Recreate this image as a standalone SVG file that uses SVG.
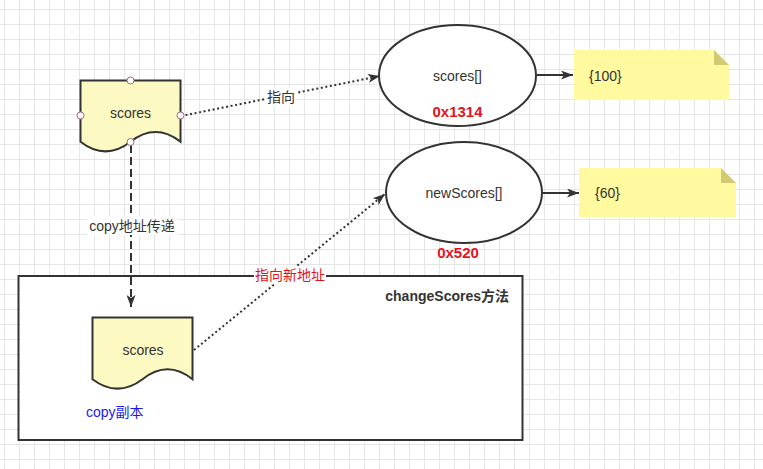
<svg xmlns="http://www.w3.org/2000/svg" width="763" height="469" viewBox="0 0 763 469">
  <defs>
    <pattern id="grid" x="4" y="9" width="15" height="15" patternUnits="userSpaceOnUse">
      <path d="M0.5,0 V15 M0,0.5 H15" fill="none" stroke="#e6e6e6" stroke-width="1"/>
    </pattern>
    <marker id="arrow" viewBox="0 0 12 9" refX="12" refY="4.5" markerWidth="12" markerHeight="9" markerUnits="userSpaceOnUse" orient="auto">
      <path d="M0,0 L12,4.5 L0,9 L3,4.5 Z" fill="#333333"/>
    </marker>
    <style>
      .txt { font-family: "Liberation Sans", "Noto Sans CJK SC", sans-serif; font-size: 14px; fill: #333333; }
      .mid { text-anchor: middle; }
      .red { font-weight: bold; fill: #e3141c; font-size: 15px; }
      .doc { fill: #fcf9c2; stroke: #333333; stroke-width: 2; }
      .ell { fill: #ffffff; stroke: #333333; stroke-width: 2; }
      .note { fill: #fff9a0; }
      .fold { fill: #d0cb72; }
      .pt { fill: #ffffff; stroke: #a8687a; stroke-width: 1; }
      .edge { fill: none; stroke: #333333; stroke-width: 2; }
      .dot { stroke-dasharray: 2 2.6; }
      .dash { stroke-dasharray: 8 4; }
      .lbg { fill: #ffffff; }
    </style>
  </defs>

  <rect x="0" y="0" width="763" height="469" fill="#ffffff"/>
  <rect x="0" y="0" width="763" height="469" fill="url(#grid)"/>

  <g id="container">
    <rect x="18.5" y="276" width="504" height="164" fill="#ffffff" stroke="#333333" stroke-width="2"/>
    <text class="txt" x="509" y="301" text-anchor="end" font-weight="bold">changeScores方法</text>
  </g>

  <g id="connectors">
    <line class="edge dot" x1="181" y1="116" x2="380" y2="76" marker-end="url(#arrow)"/>
    <rect class="lbg" x="265" y="88" width="32" height="18"/>
    <text class="txt mid" x="281" y="102">指向</text>

    <line class="edge dash" x1="131" y1="145" x2="131" y2="307" marker-end="url(#arrow)"/>
    <rect class="lbg" x="87" y="216" width="91" height="19"/>
    <text class="txt mid" x="132" y="231">copy地址传递</text>

    <line class="edge dot" x1="194" y1="350" x2="385" y2="194" marker-end="url(#arrow)"/>
    <rect class="lbg" x="254" y="266" width="72" height="18"/>
    <text class="txt mid" x="290" y="280" style="fill:#e3141c">指向新地址</text>

    <line class="edge" x1="537" y1="75" x2="573" y2="75" marker-end="url(#arrow)"/>
    <line class="edge" x1="543" y1="193" x2="579" y2="193" marker-end="url(#arrow)"/>
  </g>

  <g id="scores">
    <path class="doc" d="M80.5,80.5 H180.5 V141.7 Q155.5,122.3 130.5,141.7 Q105.5,161.1 80.5,141.7 Z"/>
    <text class="txt mid" x="130.5" y="118">scores</text>
    <circle class="pt" cx="130.5" cy="80.5" r="3.5"/>
    <circle class="pt" cx="80.5" cy="115.5" r="3.5"/>
    <circle class="pt" cx="180.5" cy="115.5" r="3.5"/>
    <circle class="pt" cx="130.5" cy="142" r="3.5"/>
  </g>

  <g id="scores-copy">
    <path class="doc" d="M92.5,317.5 H192.5 V379.2 Q167.5,359.3 142.5,379.2 Q117.5,398.1 92.5,379.2 Z"/>
    <text class="txt mid" x="143" y="355">scores</text>
    <text class="txt" x="86" y="417" style="fill:#1a1ae6">copy副本</text>
  </g>

  <g id="scores-array">
    <ellipse class="ell" cx="457.5" cy="75.5" rx="78.5" ry="50.5"/>
    <text class="txt mid" x="457.5" y="81">scores[]</text>
    <text class="txt mid red" x="457.5" y="117">0x1314</text>
  </g>

  <g id="newscores-array">
    <ellipse class="ell" cx="464" cy="192.5" rx="78" ry="50.5"/>
    <text class="txt mid" x="464" y="198">newScores[]</text>
    <text class="txt mid red" x="458" y="258">0x520</text>
  </g>

  <g id="note-100">
    <path class="note" d="M574,50 H714 L729,65 V100 H574 Z"/>
    <path class="fold" d="M714,50 L729,65 H714 Z"/>
    <text class="txt" x="589" y="81">{100}</text>
  </g>

  <g id="note-60">
    <path class="note" d="M579,168 H721 L736,183 V217 H579 Z"/>
    <path class="fold" d="M721,168 L736,183 H721 Z"/>
    <text class="txt" x="595" y="198">{60}</text>
  </g>
</svg>
